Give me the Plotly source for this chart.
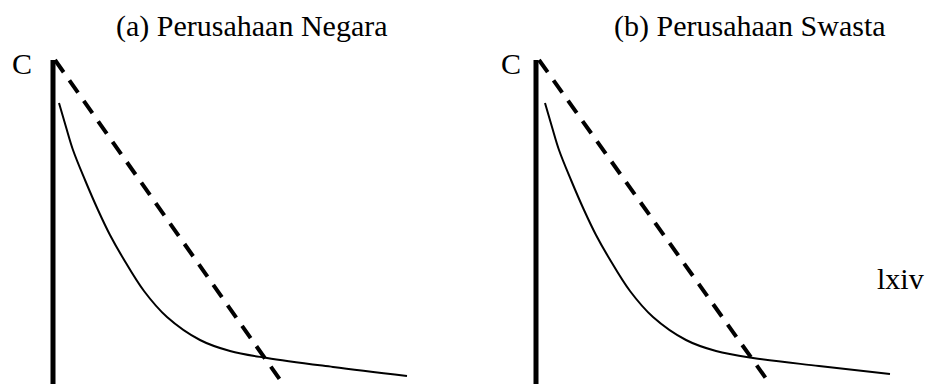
import plotly.graph_objects as go

# Panel titles and labels
titles = ["(a) Perusahaan Negara", "(b) Perusahaan Swasta"]
axis_label = "C"
page_label = "lxiv"

# Vertical (cost) axis height, in data units
c_axis_top = [324, 324]

# Dashed straight line: endpoints (quantity, cost) for each panel
dash_q_a = [2, 230]
dash_c_a = [324, 0]
dash_q_b = [3, 234]
dash_c_b = [324, 0]

# Smooth decaying cost curve for each panel
curve_q_a = [6, 13, 20, 32, 45, 57, 70, 91, 114, 147, 177, 214, 280, 354]
curve_c_a = [281, 257, 234, 204, 174, 149, 126, 93, 67, 44, 33, 26, 17, 8]
curve_q_b = [9, 16, 23, 35, 48, 60, 73, 94, 117, 150, 180, 217, 283, 354]
curve_c_b = [281, 257, 234, 204, 174, 149, 126, 93, 67, 44, 33, 26, 18, 10]

W, H = 928, 384
FONT = "Liberation Serif, Times New Roman, serif"

fig = go.Figure()

panels = [
    ("x", "y", dash_q_a, dash_c_a, curve_q_a, curve_c_a, c_axis_top[0]),
    ("x2", "y2", dash_q_b, dash_c_b, curve_q_b, curve_c_b, c_axis_top[1]),
]

for xa, ya, dq, dc, cq, cc, top in panels:
    # thick vertical axis
    fig.add_trace(go.Scatter(x=[0, 0], y=[0, top], mode="lines",
                             line=dict(color="black", width=5),
                             xaxis=xa, yaxis=ya, hoverinfo="skip"))
    # dashed straight line
    fig.add_trace(go.Scatter(x=dq, y=dc, mode="lines",
                             line=dict(color="black", width=4, dash="15px,10px"),
                             xaxis=xa, yaxis=ya, hoverinfo="skip"))
    # smooth curve
    fig.add_trace(go.Scatter(x=cq, y=cc, mode="lines",
                             line=dict(color="black", width=2, shape="spline", smoothing=1.0),
                             xaxis=xa, yaxis=ya, hoverinfo="skip"))

hidden = dict(visible=False, showgrid=False, zeroline=False, fixedrange=True)
fig.update_layout(
    width=W, height=H,
    margin=dict(l=0, r=0, t=0, b=0),
    paper_bgcolor="white", plot_bgcolor="white",
    showlegend=False,
    xaxis=dict(domain=[0, 0.5], range=[-53, 411], **hidden),
    yaxis=dict(domain=[0, 1], range=[0, 384], **hidden),
    xaxis2=dict(domain=[0.5, 1], range=[-72, 392], anchor="y2", **hidden),
    yaxis2=dict(domain=[0, 1], range=[0, 384], anchor="x2", **hidden),
)

text_font = dict(family=FONT, size=30, color="black")
ann = [
    dict(text=titles[0], x=252 / W, y=1 - 26 / H),
    dict(text=titles[1], x=750 / W, y=1 - 26 / H),
    dict(text=axis_label, x=22 / W, y=1 - 64 / H),
    dict(text=axis_label, x=511 / W, y=1 - 63 / H),
    dict(text=page_label, x=900 / W, y=1 - 278 / H),
]
for a in ann:
    fig.add_annotation(xref="paper", yref="paper", showarrow=False,
                       xanchor="center", yanchor="middle", font=text_font, **a)

fig.write_html("out.html", config={"displayModeBar": False, "staticPlot": True})
